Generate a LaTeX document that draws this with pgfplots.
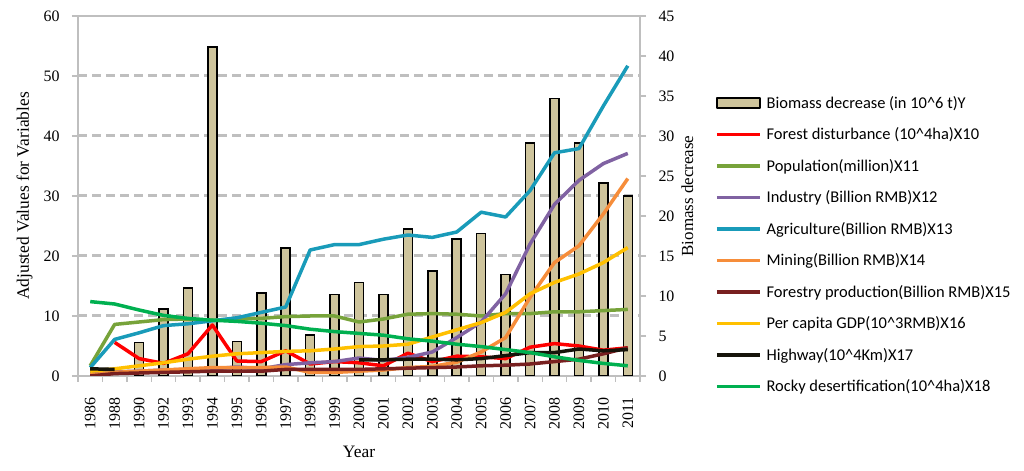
\documentclass[border=0pt]{standalone}
\usepackage{fontspec}
\setmainfont{Liberation Serif}
\newfontfamily\calibri{Carlito}
\usepackage{pgfplots}
\pgfplotsset{compat=1.18}
\usepackage{pgfplotstable}

\definecolor{tan}{RGB}{206,196,156}
\definecolor{axisgray}{RGB}{191,191,191}
\definecolor{cRed}{RGB}{255,0,0}
\definecolor{cOlive}{RGB}{119,163,58}
\definecolor{cPurple}{RGB}{128,98,162}
\definecolor{cTeal}{RGB}{25,155,185}
\definecolor{cOrange}{RGB}{246,141,58}
\definecolor{cMaroon}{RGB}{120,32,32}
\definecolor{cYellow}{RGB}{255,192,0}
\definecolor{cBlack}{RGB}{22,20,10}
\definecolor{cGreen}{RGB}{0,176,80}

\pgfplotstableread{
idx bio  x10 x11  x12  x13  x14  x15 x16  x17 x18
0   nan  nan 1.7  0.5  1.4  0.2  0.0 0.8  1.2 12.4
1   nan  5.6 8.6  0.7  6.1  0.6  0.4 1.2  1.1 12.0
2   4.2  2.9 9.0  0.8  7.2  0.8  0.5 1.7  nan 11.0
3   8.4  2.1 9.4  1.0  8.4  1.0  0.6 2.2  nan 10.1
4   11.0 3.7 9.5  1.1  8.7  1.2  0.7 2.8  nan 9.6
5   41.1 8.5 9.3  1.2  9.2  1.4  0.8 3.3  nan 9.3
6   4.3  2.5 9.5  1.5  9.7  1.4  0.8 3.7  nan 9.1
7   10.4 2.4 9.6  1.2  10.6 1.4  0.8 3.9  nan 8.8
8   16.0 4.2 9.9  1.9  11.5 1.5  1.1 4.1  nan 8.4
9   5.1  2.0 10.0 2.2  21.0 0.6  1.1 4.2  nan 7.8
10  10.2 2.4 10.0 2.4  21.9 0.6  1.1 4.5  nan 7.4
11  11.7 2.2 9.0  3.0  21.9 0.8  1.1 4.9  2.7 7.1
12  10.2 1.7 9.5  2.6  22.8 1.0  1.2 5.0  2.7 6.8
13  18.4 3.8 10.3 3.1  23.5 1.4  1.3 5.3  2.8 6.2
14  13.1 2.4 10.4 4.0  23.1 1.6  1.4 6.5  2.8 5.8
15  17.1 3.3 10.3 6.4  24.0 2.3  1.5 7.7  2.7 5.3
16  17.8 3.2 10.0 9.0  27.3 4.0  1.7 8.9  2.9 4.9
17  12.7 2.9 10.4 13.7 26.5 6.4  1.8 10.6 3.4 4.4
18  29.1 4.8 10.4 22.0 30.9 13.1 2.0 13.7 3.9 3.9
19  34.7 5.4 10.7 28.6 37.2 18.9 2.4 15.6 3.9 3.2
20  29.1 5.0 10.7 32.6 37.9 21.7 2.8 17.0 4.5 2.6
21  24.1 4.3 10.9 35.4 45.0 27.0 3.7 18.9 4.2 2.1
22  22.5 4.7 11.1 37.1 51.7 32.9 4.7 21.4 4.4 1.7
}\data

\begin{document}
\begin{tikzpicture}
\useasboundingbox (0,0) rectangle (1024bp,471bp);
% ---- bars, right axis ----
\begin{axis}[
  at={(78bp,95bp)}, anchor=south west,
  scale only axis, width=562bp, height=360bp,
  xmin=-0.5, xmax=22.5, ymin=0, ymax=45,
  axis line style={draw=axisgray, line width=2bp},
  xtick={-0.5,0.5,...,22.5}, xticklabels={},
  xtick pos=left,
  ytick={0,5,...,45}, ytick pos=right, yticklabel pos=right,
  ylabel near ticks,
  extra y ticks={7.5,15,22.5,30,37.5},
  extra y tick labels={},
  extra y tick style={ymajorgrids=true, tick style={draw=none}},
  major grid style={draw=axisgray, line width=3bp, dash pattern=on 9bp off 5bp},
  tick style={draw=axisgray, line width=1.5bp},
  tick align=outside, major tick length=6bp,
  /pgf/number format/assume math mode=true,
  ticklabel style={font=\fontsize{16}{16}\selectfont},
  yticklabel style={xshift=9bp},
  ylabel={Biomass decrease},
  ylabel shift=-12bp,
  ylabel style={font=\fontsize{17}{17}\selectfont},
]
\addplot[ybar, bar width=9bp, fill=tan, draw=black, line width=1.5bp] table[x=idx,y=bio]{\data};
\end{axis}
% ---- lines, left axis ----
\begin{axis}[
  at={(78bp,95bp)}, anchor=south west,
  scale only axis, width=562bp, height=360bp,
  xmin=-0.5, xmax=22.5, ymin=0, ymax=60,
  axis line style={draw=none},
  xtick={0,...,22},
  xticklabels={1986,1988,1990,1992,1993,1994,1995,1996,1997,1998,1999,2000,2001,2002,2003,2004,2005,2006,2007,2008,2009,2010,2011},
  xtick pos=left, xtick style={draw=none},
  ytick={0,10,...,60}, ytick pos=left,
  tick style={draw=axisgray, line width=1.5bp},
  tick align=outside, major tick length=6bp,
  /pgf/number format/assume math mode=true,
  ticklabel style={font=\fontsize{16}{16}\selectfont},
  xticklabel style={rotate=90, anchor=east, xshift=-12bp},
  yticklabel style={xshift=-9bp},
  xlabel={Year}, ylabel={Adjusted Values for Variables},
  xlabel shift=10bp, ylabel shift=4bp,
  label style={font=\fontsize{17.5}{17.5}\selectfont},
  unbounded coords=jump,
  every axis plot/.append style={line width=3.5bp, line join=round},
  legend image code/.code={\draw[#1, line width=3.5bp] (0bp,0bp) -- (43bp,0bp);},
  legend cell align=left,
  legend style={at={(1.128,0.786)}, anchor=north west, draw=none, fill=none,
    font=\calibri\fontsize{16.5}{16.5}\selectfont,
    row sep=16bp, column sep=4bp, nodes={inner sep=1bp}},
]
\addlegendimage{legend image code/.code={\draw[fill=tan, draw=black, line width=1.5bp] (0bp,-5bp) rectangle (43bp,5bp);}}
\addlegendentry{Biomass decrease (in 10\textasciicircum 6 t)Y}
\addplot[cRed] table[x=idx,y=x10]{\data};
\addlegendentry{Forest disturbance (10\textasciicircum 4ha)X10}
\addplot[cOlive] table[x=idx,y=x11]{\data};
\addlegendentry{Population(million)X11}
\addplot[cPurple] table[x=idx,y=x12]{\data};
\addlegendentry{Industry (Billion RMB)X12}
\addplot[cTeal] table[x=idx,y=x13]{\data};
\addlegendentry{Agriculture(Billion RMB)X13}
\addplot[cOrange] table[x=idx,y=x14]{\data};
\addlegendentry{Mining(Billion RMB)X14}
\addplot[cMaroon] table[x=idx,y=x15]{\data};
\addlegendentry{Forestry production(Billion RMB)X15}
\addplot[cYellow] table[x=idx,y=x16]{\data};
\addlegendentry{Per capita GDP(10\textasciicircum 3RMB)X16}
\addplot[cBlack] table[x=idx,y=x17]{\data};
\addlegendentry{Highway(10\textasciicircum 4Km)X17}
\addplot[cGreen] table[x=idx,y=x18]{\data};
\addlegendentry{Rocky desertification(10\textasciicircum 4ha)X18}
\end{axis}
\end{tikzpicture}
\end{document}
